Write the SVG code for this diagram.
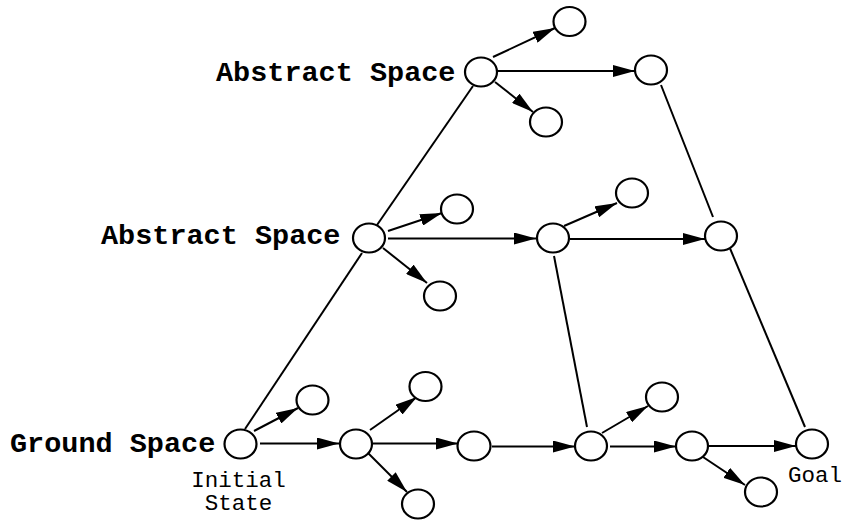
<svg xmlns="http://www.w3.org/2000/svg" width="845" height="521" viewBox="0 0 845 521">
  <style>
    .n { fill: #fff; stroke: #000; stroke-width: 2.2; }
    .c { stroke: #000; stroke-width: 2; fill: none; }
    .a { marker-end: url(#head); }
    .lbl { font-family: "Liberation Mono", "Courier New", monospace; font-weight: bold; font-size: 28.5px; fill: #000; }
    .sub { font-family: "Liberation Mono", "Courier New", monospace; font-size: 22.5px; fill: #000; text-anchor: middle; }
  </style>
  <defs>
    <marker id="head" viewBox="0 0 22 12" refX="22" refY="6" markerWidth="22" markerHeight="12" markerUnits="userSpaceOnUse" orient="auto">
      <path d="M0,0 L22,6 L0,12 z" fill="#000"/>
    </marker>
  </defs>

  <rect width="845" height="521" fill="#fff"/>

  <!-- connectors -->
  <g id="connectors">
    <!-- links between levels -->
    <line class="c" x1="473" y1="86" x2="377" y2="225"/>
    <line class="c" x1="362" y1="253" x2="245" y2="429"/>
    <line class="c" x1="661" y1="85" x2="713" y2="217"/>
    <line class="c" x1="729" y1="246" x2="805" y2="427"/>
    <line class="c" x1="554" y1="256" x2="587" y2="427"/>

    <!-- top abstract level -->
    <line class="c a" x1="493" y1="57" x2="555" y2="28"/>
    <line class="c a" x1="497" y1="71" x2="635" y2="71"/>
    <line class="c a" x1="495" y1="82" x2="533" y2="112"/>

    <!-- middle abstract level -->
    <line class="c a" x1="388" y1="231" x2="442" y2="213"/>
    <line class="c a" x1="388" y1="238.5" x2="536" y2="238.5"/>
    <line class="c a" x1="383" y1="248" x2="427" y2="283"/>
    <line class="c a" x1="564" y1="226" x2="617" y2="203"/>
    <line class="c a" x1="570" y1="239" x2="705" y2="239"/>

    <!-- ground level -->
    <line class="c a" x1="254" y1="431" x2="298" y2="408"/>
    <line class="c a" x1="260" y1="443.5" x2="339" y2="443.5"/>
    <line class="c a" x1="370" y1="430" x2="417" y2="397"/>
    <line class="c a" x1="373" y1="443.5" x2="458" y2="443.5"/>
    <line class="c a" x1="368" y1="453" x2="407" y2="492"/>
    <line class="c a" x1="492" y1="446.5" x2="575" y2="446.5"/>
    <line class="c a" x1="602" y1="433" x2="648" y2="406"/>
    <line class="c a" x1="610" y1="446.5" x2="676" y2="446.5"/>
    <line class="c a" x1="703" y1="457" x2="745" y2="485"/>
    <line class="c a" x1="708" y1="446" x2="796" y2="446"/>
  </g>

  <!-- top abstract space -->
  <g id="a1"><ellipse class="n" cx="481" cy="72" rx="16" ry="14.5"/></g>
  <g id="a1-up"><ellipse class="n" cx="569.5" cy="21.5" rx="16" ry="14.5"/></g>
  <g id="a1-down"><ellipse class="n" cx="546" cy="122" rx="16" ry="14.5"/></g>
  <g id="a2"><ellipse class="n" cx="651" cy="70" rx="16" ry="14.5"/></g>

  <!-- middle abstract space -->
  <g id="b1"><ellipse class="n" cx="369" cy="238" rx="16" ry="14.5"/></g>
  <g id="b1-up"><ellipse class="n" cx="457" cy="209" rx="16" ry="14.5"/></g>
  <g id="b1-down"><ellipse class="n" cx="440" cy="296" rx="16" ry="14.5"/></g>
  <g id="b2"><ellipse class="n" cx="553" cy="238" rx="16" ry="14.5"/></g>
  <g id="b2-up"><ellipse class="n" cx="632" cy="193" rx="16" ry="14.5"/></g>
  <g id="b3"><ellipse class="n" cx="721" cy="236" rx="16" ry="14.5"/></g>

  <!-- ground space -->
  <g id="g1"><ellipse class="n" cx="240.5" cy="444" rx="16" ry="14.5"/></g>
  <g id="g1-up"><ellipse class="n" cx="312.5" cy="400" rx="16" ry="14.5"/></g>
  <g id="g2"><ellipse class="n" cx="356" cy="444" rx="16" ry="14.5"/></g>
  <g id="g2-up"><ellipse class="n" cx="425.5" cy="386.5" rx="16" ry="14.5"/></g>
  <g id="g2-down"><ellipse class="n" cx="418" cy="504" rx="16" ry="14.5"/></g>
  <g id="g3"><ellipse class="n" cx="474" cy="446" rx="16.5" ry="14.5"/></g>
  <g id="g4"><ellipse class="n" cx="591" cy="446" rx="16" ry="14.5"/></g>
  <g id="g4-up"><ellipse class="n" cx="662" cy="397" rx="16" ry="14.5"/></g>
  <g id="g5"><ellipse class="n" cx="692" cy="446" rx="16" ry="14.5"/></g>
  <g id="g5-down"><ellipse class="n" cx="761" cy="492" rx="16" ry="14.5"/></g>
  <g id="goal"><ellipse class="n" cx="812" cy="444" rx="16" ry="14.5"/></g>

  <!-- labels -->
  <g id="labels">
    <text class="lbl" x="216" y="81">Abstract Space</text>
    <text class="lbl" x="101" y="244">Abstract Space</text>
    <text class="lbl" x="10" y="452">Ground Space</text>
    <text class="sub" x="238.5" y="486.5">Initial</text>
    <text class="sub" x="238.5" y="510">State</text>
    <text class="sub" x="815" y="482">Goal</text>
  </g>
</svg>
